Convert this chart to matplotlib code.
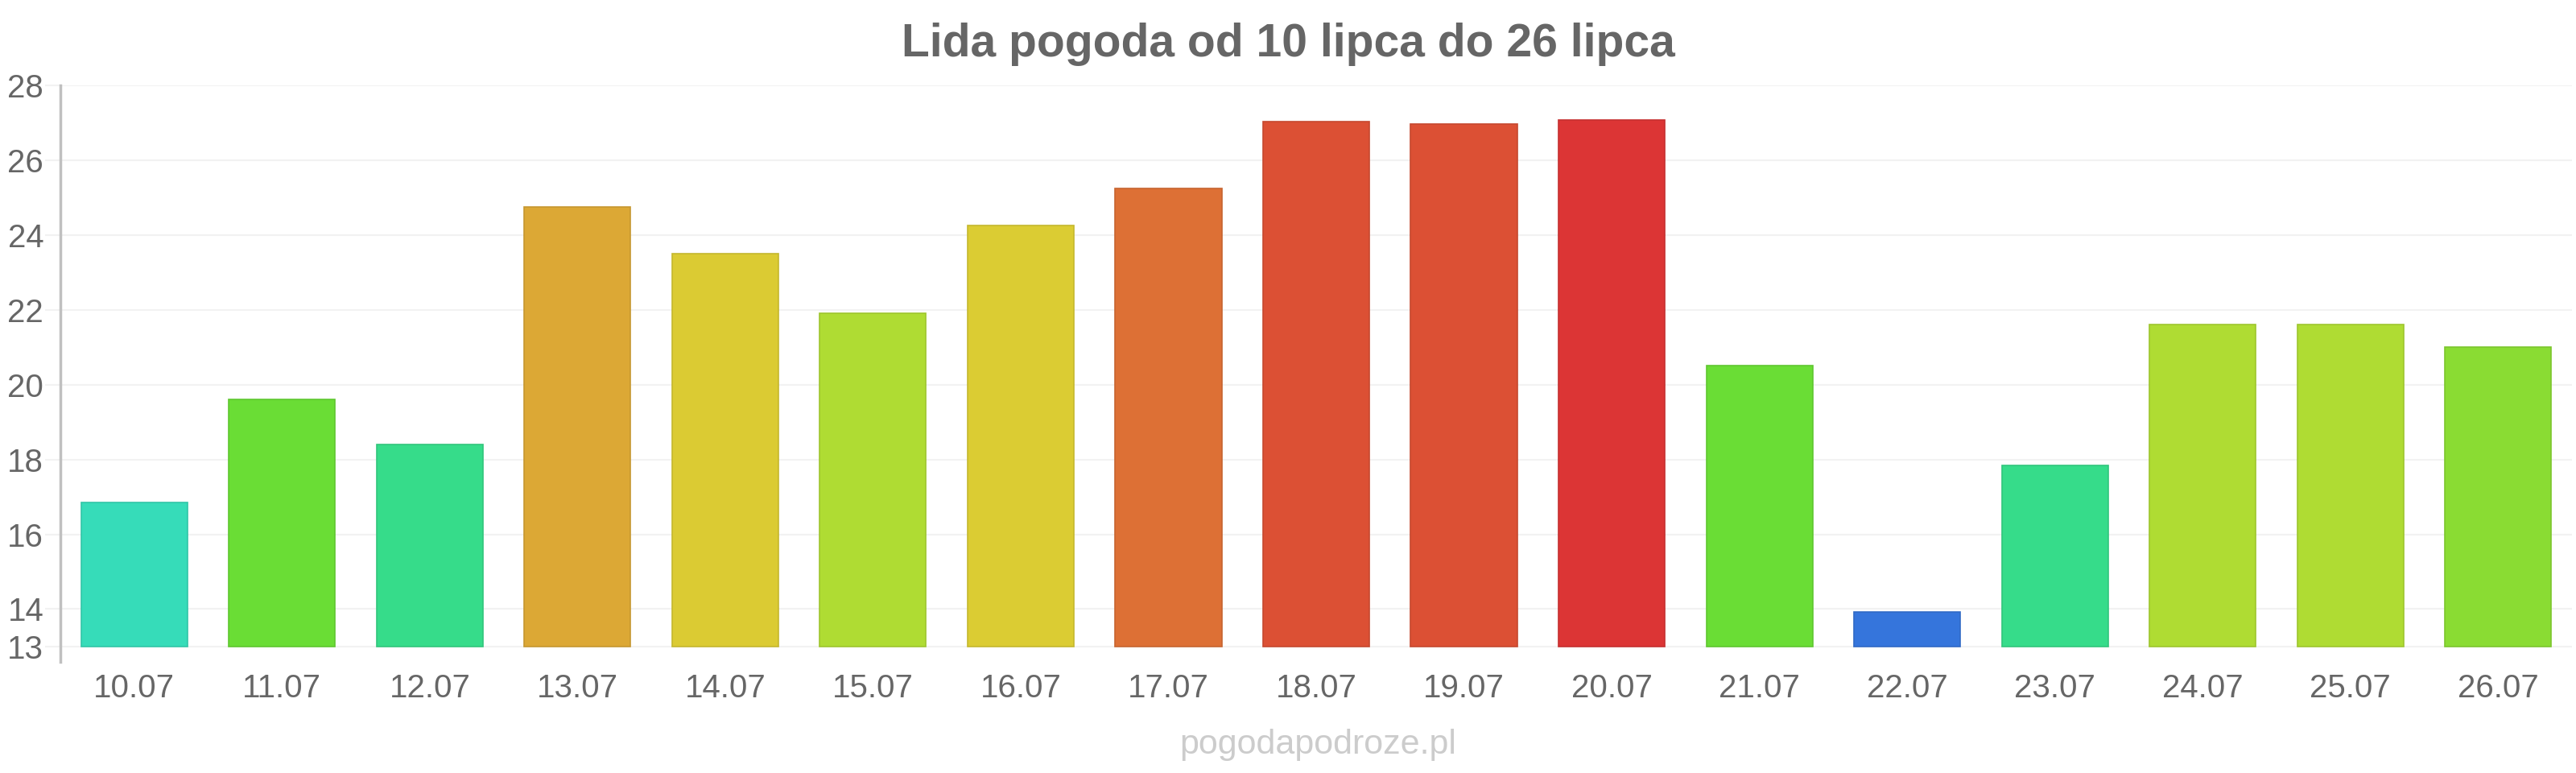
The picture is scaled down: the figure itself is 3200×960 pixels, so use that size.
import numpy as np
import matplotlib
matplotlib.use('Agg')
from matplotlib import pyplot as plt
from matplotlib import colors as mcolors

plt.rcParams['font.family'] = ['Liberation Sans', 'DejaVu Sans']

# data
days = ['10.07', '11.07', '12.07', '13.07', '14.07', '15.07', '16.07', '17.07', '18.07',
        '19.07', '20.07', '21.07', '22.07', '23.07', '24.07', '25.07', '26.07']
temps = [16.85, 19.6, 18.4, 24.75, 23.5, 21.9, 24.25, 25.25, 27.03,
         26.97, 27.08, 20.5, 13.92, 17.85, 21.6, 21.6, 21.0]
bar_colors = ['#36dcb9', '#6add35', '#36dc8a', '#dca835', '#dbcb33', '#afdc33', '#dbcc33',
              '#dd7035', '#dc5034', '#dc5034', '#dc3535', '#6add35', '#3575dc', '#36dc8a',
              '#afdc33', '#afdc33', '#8adc33']
yticks = [13, 14, 16, 18, 20, 22, 24, 26, 28]
base = 13

fig = plt.figure(figsize=(32, 9.6), dpi=100)
ax = fig.add_axes([75/3200, 1 - 822/960, 3120/3200, (822 - 106)/960])

edge = [tuple(c * 0.9 for c in mcolors.to_rgb(col)) for col in bar_colors]
x = np.arange(len(days))
ax.bar(x, np.array(temps) - base, bottom=base, width=0.72, color=bar_colors,
       edgecolor=edge, linewidth=1.2, zorder=3)

ax.set_xlim(-0.5, len(days) - 0.5)
ax.set_ylim(12.59, 28)
ax.set_yticks(yticks)
ax.set_yticklabels([str(t) for t in yticks])
ax.set_xticks(x)
ax.set_xticklabels(days)

ax.grid(axis='y', color='#f2f2f2', linewidth=1.5, zorder=0)
ax.grid(axis='x', visible=False)
for s in ['top', 'right', 'bottom']:
    ax.spines[s].set_visible(False)
ax.spines['left'].set_color('#c0c0c0')
ax.spines['left'].set_linewidth(2.5)
ax.spines['left'].set_bounds(12.59, 28)

ax.tick_params(axis='y', length=14, width=1.5, color='#f2f2f2', pad=1,
               labelsize=29, labelcolor='#666666')
ax.tick_params(axis='x', length=0, pad=10, labelsize=29, labelcolor='#666666')

fig.text(0.5, 1 - 55/960, 'Lida pogoda od 10 lipca do 26 lipca', ha='center', va='center',
         fontsize=41, fontweight='bold', color='#666666')
fig.text(1637/3200, 1 - 925/960, 'pogodapodroze.pl', ha='center', va='center',
         fontsize=31, color='#cccccc')

fig.savefig('out.png', dpi=100, facecolor='white')
